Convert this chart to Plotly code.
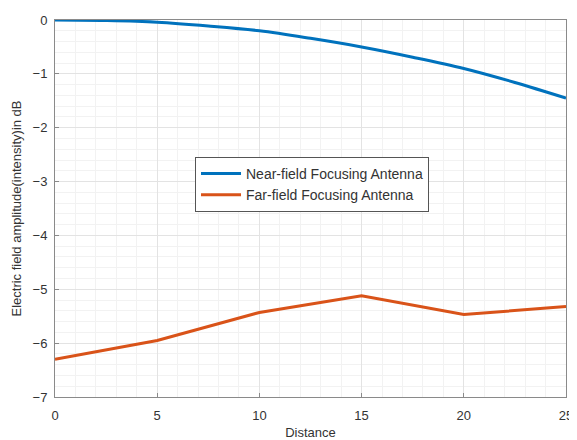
import plotly.graph_objects as go

distance = [0, 2.5, 5, 7.5, 10, 12.5, 15, 17.5, 20, 22.5, 25]
near_field = [0.0, -0.01, -0.04, -0.11, -0.2, -0.34, -0.5, -0.69, -0.9, -1.16, -1.45]
far_dist = [0, 5, 10, 15, 20, 25]
far_field = [-6.3, -5.95, -5.43, -5.12, -5.47, -5.32]

FONT = "Liberation Sans, Arial"

fig = go.Figure()
fig.add_trace(go.Scatter(x=distance, y=near_field, mode="lines", name="Near-field Focusing Antenna",
                         line=dict(color="#0072BD", width=3, shape="spline")))
fig.add_trace(go.Scatter(x=far_dist, y=far_field, mode="lines", name="Far-field Focusing Antenna",
                         line=dict(color="#D95319", width=3)))

axis_common = dict(showline=True, linecolor="#8a8a8a", linewidth=1, mirror=True,
                   gridcolor="#e3e3e3", zeroline=False, ticks="inside", ticklen=4,
                   tickcolor="#8a8a8a", automargin=False,
                   tickfont=dict(family=FONT, size=13, color="#333"))

fig.update_xaxes(range=[0, 25], dtick=5, ticklabelstandoff=6,
                 title=dict(text="Distance", standoff=6,
                            font=dict(family=FONT, size=13, color="#333")),
                 minor=dict(dtick=1, showgrid=True, gridcolor="#f2f2f2"), **axis_common)
fig.update_yaxes(range=[-7, 0], dtick=1, ticklabelstandoff=4,
                 title=dict(text="Electric field amplitude(intensity)in dB", standoff=8,
                            font=dict(family=FONT, size=13, color="#333")),
                 minor=dict(dtick=0.2, showgrid=True, gridcolor="#f2f2f2"), **axis_common)

fig.update_layout(
    width=569, height=432,
    margin=dict(l=47, r=11, t=12, b=43),
    paper_bgcolor="white", plot_bgcolor="white",
    legend=dict(x=0.274, y=0.637, xanchor="left", yanchor="top",
                bordercolor="#555", borderwidth=1, bgcolor="white",
                font=dict(family=FONT, size=14, color="#333"),
                tracegroupgap=0, itemwidth=40),
    showlegend=True,
)

fig.write_html("out.html")
